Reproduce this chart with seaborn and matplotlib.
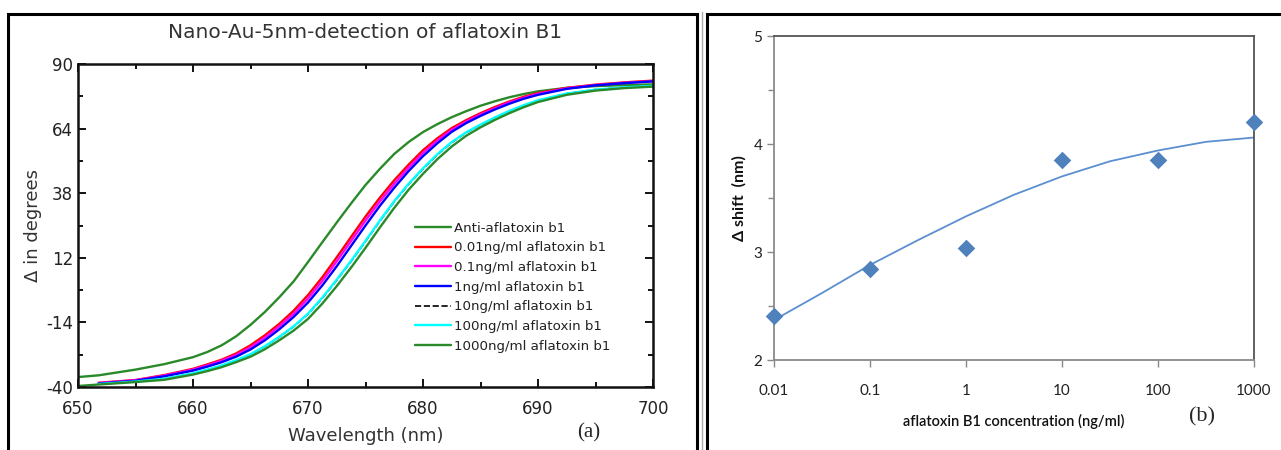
import numpy as np
import pandas as pd
import matplotlib
matplotlib.use("Agg")
import matplotlib.pyplot as plt
import seaborn as sns
from matplotlib.patches import Rectangle
from matplotlib.lines import Line2D
from matplotlib.ticker import MultipleLocator, FixedLocator, NullLocator

# ---- panel (a): SPR curves, delta (degrees) vs wavelength (nm) ----
wavelength = [650, 651.8, 655, 657.5, 660, 661.25, 662.5, 663.75, 665, 666.25, 667.5,
              668.75, 670, 671.25, 672.5, 673.75, 675, 676.25, 677.5, 678.75, 680,
              681.25, 682.5, 683.75, 685, 686.25, 687.5, 688.75, 690, 692.5, 695, 697.5, 700]

anti = [-36.0, -35.3, -33.0, -30.8, -28.0, -25.9, -23.2, -19.6, -15.0, -9.8, -3.9,
        2.5, 10.3, 18.3, 26.2, 33.9, 41.3, 47.8, 53.8, 58.6, 62.6,
        65.8, 68.6, 71.0, 73.2, 75.0, 76.6, 77.9, 79.0, 80.4, 81.1, 81.5, 81.8]
c_001 = [np.nan, -38.3, -37.2, -35.2, -32.7, -30.9, -29.0, -26.5, -23.2, -19.2, -14.6,
         -9.3, -3.0, 4.2, 12.2, 20.4, 28.6, 36.2, 43.2, 49.5, 55.3,
         60.1, 64.2, 67.4, 70.2, 72.7, 74.9, 76.8, 78.3, 80.4, 81.7, 82.6, 83.3]
c_01 = [np.nan, -38.4, -37.3, -35.4, -33.0, -31.3, -29.4, -27.1, -24.0, -20.1, -15.6,
        -10.5, -4.4, 2.7, 10.6, 18.8, 27.0, 34.7, 41.8, 48.3, 54.2,
        59.2, 63.5, 66.8, 69.7, 72.2, 74.5, 76.4, 78.0, 80.2, 81.5, 82.4, 83.1]
c_1 = [np.nan, -38.6, -37.5, -35.7, -33.4, -31.8, -30.0, -27.8, -24.9, -21.2, -16.8,
       -11.8, -6.0, 0.9, 8.6, 16.8, 25.0, 32.9, 40.2, 46.9, 52.9,
       58.1, 62.7, 66.2, 69.1, 71.7, 74.0, 76.0, 77.6, 80.0, 81.4, 82.3, 83.0]
c_10 = [np.nan, -38.8, -37.8, -36.7, -34.6, -33.1, -31.4, -29.3, -26.9, -23.7, -19.9,
        -15.7, -10.6, -4.2, 3.0, 10.6, 18.6, 26.8, 34.6, 41.6, 47.8,
        53.5, 58.4, 62.4, 65.5, 68.4, 71.0, 73.3, 75.3, 78.1, 79.7, 80.6, 81.2]
c_100 = [np.nan, -38.8, -37.8, -36.7, -34.5, -33.0, -31.3, -29.2, -26.8, -23.6, -19.8,
         -15.6, -10.5, -4.0, 3.2, 10.8, 18.8, 27.0, 34.8, 41.8, 48.0,
         53.7, 58.6, 62.5, 65.6, 68.5, 71.1, 73.4, 75.4, 78.1, 79.7, 80.6, 81.2]
c_1000 = [-39.6, -39.0, -38.0, -37.1, -35.0, -33.6, -32.0, -30.0, -27.8, -24.8, -21.2,
          -17.3, -12.6, -6.4, 0.6, 8.1, 16.0, 24.2, 32.1, 39.4, 45.8,
          51.7, 56.8, 61.1, 64.5, 67.5, 70.2, 72.6, 74.7, 77.6, 79.3, 80.3, 80.9]

curve_labels = ["Anti-aflatoxin b1", "0.01ng/ml aflatoxin b1", "0.1ng/ml aflatoxin b1",
                "1ng/ml aflatoxin b1", "10ng/ml aflatoxin b1", "100ng/ml aflatoxin b1",
                "1000ng/ml aflatoxin b1"]
curve_values = [anti, c_001, c_01, c_1, c_10, c_100, c_1000]
curve_colors = ["#2a8a2a", "#ff0000", "#ff00ff", "#0000ff", "#000000", "#00ffff", "#2a8a2a"]
curve_styles = ["-", "-", "-", "-", "--", "-", "-"]
curve_widths = [1.7, 1.7, 1.7, 1.7, 1.2, 1.7, 1.7]

# ---- panel (b): delta shift vs aflatoxin B1 concentration ----
concentration = [0.01, 0.1, 1, 10, 100, 1000]
shift = [2.41, 2.84, 3.04, 3.85, 3.85, 4.20]
trend_conc = [0.01, 0.0316, 0.1, 0.316, 1, 3.16, 10, 31.6, 100, 316, 1000]
trend_shift = [2.37, 2.62, 2.88, 3.11, 3.33, 3.53, 3.70, 3.84, 3.94, 4.02, 4.06]
conc_ticks = [0.01, 0.1, 1, 10, 100, 1000]
conc_ticklabels = ["0.01", "0.1", "1", "10", "100", "1000"]

sns.set_theme(style="ticks")
plt.rcParams["font.family"] = ["DejaVu Sans"]
plt.rcParams["axes.unicode_minus"] = False

W, H = 1281, 450
fig = plt.figure(figsize=(W / 100, H / 100), dpi=100)

# panel frames
fig.patches.append(Rectangle((8 / W, -0.02), (697 - 8) / W, 1.02 - 14 / H, fill=False,
                             lw=2.2, edgecolor="black", transform=fig.transFigure))
fig.patches.append(Rectangle((707 / W, -0.02), (W + 5 - 707) / W, 1.02 - 14 / H, fill=False,
                             lw=2.2, edgecolor="black", transform=fig.transFigure))
fig.lines.append(Line2D([702 / W, 702 / W], [0, 1 - 12 / H], lw=1, color="#aaaaaa",
                        transform=fig.transFigure))

# ---------- left panel ----------
ax1 = fig.add_axes([78 / W, 1 - 387 / H, 575 / W, 323 / H])
for lab, vals, col, ls, lw in zip(curve_labels, curve_values, curve_colors,
                                  curve_styles, curve_widths):
    df = pd.DataFrame({"wavelength": wavelength, "delta": vals}).dropna()
    sns.lineplot(data=df, x="wavelength", y="delta", ax=ax1, color=col, lw=lw,
                 linestyle=ls, label=lab)

ax1.set_xlim(650, 700)
ax1.set_ylim(-40, 90)
ax1.xaxis.set_major_locator(MultipleLocator(10))
ax1.xaxis.set_minor_locator(MultipleLocator(5))
ax1.yaxis.set_major_locator(FixedLocator([-40, -14, 12, 38, 64, 90]))
ax1.yaxis.set_minor_locator(FixedLocator([-27, -1, 25, 51, 77]))
ax1.tick_params(which="both", direction="in", top=True, right=True, width=1.4,
                colors="#111111", labelsize=12, labelcolor="#222222")
ax1.tick_params(which="major", length=6)
ax1.tick_params(which="minor", length=3.5)
ax1.tick_params(axis="x", pad=9)
for sp in ax1.spines.values():
    sp.set_linewidth(1.8)
    sp.set_color("#111111")
ax1.set_xlabel("Wavelength (nm)", fontsize=13, color="#333333", labelpad=7)
ax1.set_ylabel("Δ in degrees", fontsize=13, color="#333333", labelpad=3)
ax1.set_title("Nano-Au-5nm-detection of aflatoxin B1", fontsize=14.5, color="#333333", pad=19)
leg = ax1.legend(loc="upper left", bbox_to_anchor=(0.582, 0.52), frameon=False, fontsize=9.6,
                 handlelength=2.7, handletextpad=0.2, labelspacing=0.5, borderpad=0.2,
                 borderaxespad=0)
for t in leg.get_texts():
    t.set_color("#222222")
fig.text(589 / W, 1 - 433 / H, "(a)", family="Liberation Serif", fontsize=15,
         ha="center", va="center")

# ---------- right panel ----------
ax2 = fig.add_axes([774 / W, 1 - 360 / H, 480 / W, 324 / H])
trend = pd.DataFrame({"conc": trend_conc, "shift": trend_shift})
sns.lineplot(data=trend, x="conc", y="shift", ax=ax2, color="#5b8fd0", lw=1.3)
pts = pd.DataFrame({"conc": concentration, "shift": shift})
sns.scatterplot(data=pts, x="conc", y="shift", ax=ax2, marker="D", s=80,
                color="#4f81bd", edgecolor="#4f81bd", linewidth=0, zorder=5, clip_on=False)
ax2.set_xscale("log")
ax2.set_xlim(0.01, 1000)
ax2.set_ylim(2, 5)
ax2.xaxis.set_major_locator(FixedLocator(conc_ticks))
ax2.set_xticklabels(conc_ticklabels)
ax2.xaxis.set_minor_locator(NullLocator())
ax2.yaxis.set_major_locator(MultipleLocator(1))
ax2.yaxis.set_minor_locator(MultipleLocator(0.5))
ax2.tick_params(which="both", direction="out", colors="#888888", width=1,
                labelsize=11, labelcolor="#222222")
ax2.tick_params(which="major", length=5)
ax2.tick_params(which="minor", length=4)
ax2.tick_params(axis="x", pad=12)
for lbl in ax2.get_xticklabels() + ax2.get_yticklabels():
    lbl.set_family(["Lato", "DejaVu Sans"])
ax2.spines["left"].set_color("#8a8a8a")
ax2.spines["bottom"].set_color("#8a8a8a")
ax2.spines["top"].set_color("#555555")
ax2.spines["right"].set_color("#555555")
for sp in ax2.spines.values():
    sp.set_linewidth(1.3)
ax2.set_xlabel("aflatoxin B1 concentration (ng/ml)", fontsize=10.5, family=["Lato", "DejaVu Sans"],
               fontweight="semibold", color="#111111", labelpad=12)
ax2.set_ylabel("Δ shift  (nm)", fontsize=11.5, family=["Lato", "DejaVu Sans"],
               fontweight="bold", color="#111111", labelpad=5)
fig.text(1202 / W, 1 - 417 / H, "(b)", family="Liberation Serif", fontsize=16,
         ha="center", va="center")

fig.savefig("out.png", dpi=100)
